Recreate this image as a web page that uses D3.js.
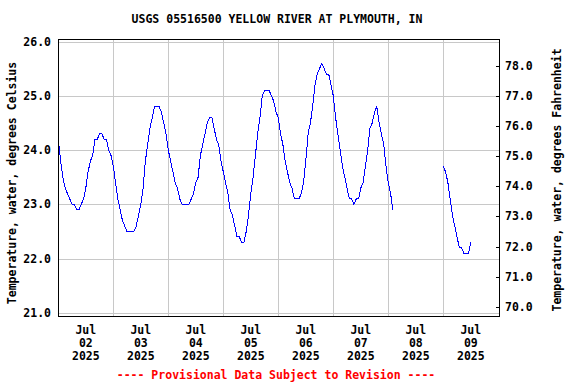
<!DOCTYPE html>
<html>
<head>
<meta charset="utf-8">
<script src="https://cdn.jsdelivr.net/npm/d3@7"></script>
<style>
  body { margin: 0; background: #fff; }
  text { font-family: "DejaVu Sans Mono", monospace; font-weight: bold; font-size: 11.5px; }
</style>
</head>
<body>
<div id="chart"></div>
<script>
// Site info
const chartTitle = "USGS 05516500 YELLOW RIVER AT PLYMOUTH, IN";
const footNote = "---- Provisional Data Subject to Revision ----";
const leftLabel = "Temperature, water, degrees Celsius";
const rightLabel = "Temperature, water, degrees Fahrenheit";

// Hourly water temperature (deg C) starting 2025-07-02 00:00, null = no data
const startTime = "2025-07-02T00:00:00Z";
const tempC = [
  24.2, 23.8, 23.5, 23.3, 23.2, 23.1, 23.0, 23.0, 22.9, 22.9,
  23.0, 23.1, 23.3, 23.6, 23.8, 23.9, 24.2, 24.2, 24.3, 24.3,
  24.2, 24.2, 24.0, 23.9, 23.7, 23.4, 23.1, 22.9, 22.7, 22.6,
  22.5, 22.5, 22.5, 22.5, 22.6, 22.8, 23.0, 23.3, 23.8, 24.1,
  24.4, 24.6, 24.8, 24.8, 24.8, 24.7, 24.5, 24.3, 24.0, 23.8,
  23.6, 23.4, 23.3, 23.1, 23.0, 23.0, 23.0, 23.0, 23.1, 23.2,
  23.4, 23.5, 23.9, 24.1, 24.3, 24.5, 24.6, 24.6, 24.4, 24.2,
  24.1, 23.8, 23.6, 23.4, 23.2, 22.9, 22.8, 22.6, 22.4, 22.4,
  22.3, 22.3, 22.5, 22.8, 23.2, 23.5, 23.9, 24.3, 24.6, 25.0,
  25.1, 25.1, 25.1, 25.0, 24.9, 24.7, 24.6, 24.3, 24.1, 23.8,
  23.6, 23.4, 23.3, 23.1, 23.1, 23.1, 23.2, 23.4, 23.8, 24.3,
  24.5, 24.8, 25.2, 25.4, 25.5, 25.6, 25.5, 25.4, 25.4, 25.2,
  25.0, 24.6, 24.3, 24.0, 23.7, 23.5, 23.3, 23.1, 23.1, 23.0,
  23.1, 23.1, 23.3, 23.4, 23.7, 24.0, 24.4, 24.5, 24.7, 24.8,
  24.5, 24.3, 24.1, 23.7, 23.4, 23.2, 22.9,
  null, null, null, null, null, null, null, null, null, null, null,
  null, null, null, null, null, null, null, null, null, null,
  23.7, 23.6, 23.4, 23.1, 22.8, 22.6, 22.4, 22.2, 22.2, 22.1,
  22.1, 22.1, 22.3
];

// Axis ticks
const celsiusTicks = [21, 22, 23, 24, 25, 26];
const fahrenheitTicks = [70, 71, 72, 73, 74, 75, 76, 77, 78];
const dayLabels = ["2025-07-02", "2025-07-03", "2025-07-04", "2025-07-05",
                   "2025-07-06", "2025-07-07", "2025-07-08", "2025-07-09"];
const xStart = "2025-07-02", xEnd = "2025-07-10";

const width = 576, height = 384;
const box = { left: 58, top: 39, right: 499, bottom: 316 };

const parseDay = d3.utcParse("%Y-%m-%d");
const t0 = new Date(startTime);
const data = tempC.map((v, i) => ({ time: d3.utcHour.offset(t0, i), value: v }));

const svg = d3.select("#chart").append("svg")
    .attr("width", width)
    .attr("height", height);

// Scales
const x = d3.scaleUtc()
    .domain([parseDay(xStart), parseDay(xEnd)])
    .range([box.left + 0.3, box.right - 0.7]);

const yC = d3.scaleLinear()
    .domain([21, 26])
    .range([313, 41.5]);

const yF = d3.scaleLinear()
    .domain([21 * 1.8 + 32, 26 * 1.8 + 32])
    .range(yC.range());

const crisp = v => Math.round(v) + 0.5;

// Gridlines
const grid = svg.append("g").attr("stroke", "#c8c8c8").attr("stroke-width", 1);
grid.selectAll(".hgrid").data(celsiusTicks).enter().append("line")
    .attr("x1", box.left).attr("x2", box.right)
    .attr("y1", d => crisp(yC(d))).attr("y2", d => crisp(yC(d)));

const midnights = d3.utcDay.range(d3.utcDay.offset(parseDay(xStart), 1), parseDay(xEnd));
grid.selectAll(".vgrid").data(midnights).enter().append("line")
    .attr("x1", d => crisp(x(d))).attr("x2", d => crisp(x(d)))
    .attr("y1", box.top).attr("y2", box.bottom);

// Data line
const line = d3.line()
    .defined(d => d.value !== null)
    .x(d => x(d.time))
    .y(d => yC(d.value));

svg.append("path")
    .datum(data)
    .attr("fill", "none")
    .attr("stroke", "#0000ff")
    .attr("stroke-width", 1)
    .attr("shape-rendering", "crispEdges")
    .attr("d", line);

// Plot frame
svg.append("rect")
    .attr("x", box.left + 0.5).attr("y", box.top + 0.5)
    .attr("width", box.right - box.left).attr("height", box.bottom - box.top)
    .attr("fill", "none").attr("stroke", "#000").attr("stroke-width", 1);

// Left axis labels
svg.append("g").selectAll("text").data(celsiusTicks).enter().append("text")
    .attr("x", 51).attr("y", d => yC(d)).attr("dy", "0.35em")
    .attr("text-anchor", "end")
    .text(d => d3.format(".1f")(d));

// Right axis ticks + labels
const right = svg.append("g");
right.selectAll("line").data(fahrenheitTicks).enter().append("line")
    .attr("x1", box.right - 3).attr("x2", box.right)
    .attr("y1", d => crisp(yF(d))).attr("y2", d => crisp(yF(d)))
    .attr("stroke", "#000");
right.selectAll("text").data(fahrenheitTicks).enter().append("text")
    .attr("x", 505).attr("y", d => yF(d)).attr("dy", "0.35em")
    .text(d => d3.format(".1f")(d));

// X axis labels at noon of each day
const xl = svg.append("g").selectAll("text").data(dayLabels.map(parseDay)).enter().append("text")
    .attr("text-anchor", "middle")
    .attr("transform", d => `translate(${x(d3.utcHour.offset(d, 12))},334)`);
xl.append("tspan").attr("x", 0).attr("y", 0).text(d3.utcFormat("%b"));
xl.append("tspan").attr("x", 0).attr("y", 13).text(d3.utcFormat("%d"));
xl.append("tspan").attr("x", 0).attr("y", 26).text(d3.utcFormat("%Y"));

// Titles
svg.append("text").attr("x", 277).attr("y", 23).attr("text-anchor", "middle").text(chartTitle);
svg.append("text").attr("x", 276).attr("y", 379).attr("text-anchor", "middle")
    .attr("fill", "#ff0000").text(footNote);
svg.append("text").attr("transform", "translate(12,183) rotate(-90)")
    .attr("dy", "0.35em").attr("text-anchor", "middle").text(leftLabel);
svg.append("text").attr("transform", "translate(557,180) rotate(-90)")
    .attr("dy", "0.35em").attr("text-anchor", "middle").text(rightLabel);
</script>
</body>
</html>
